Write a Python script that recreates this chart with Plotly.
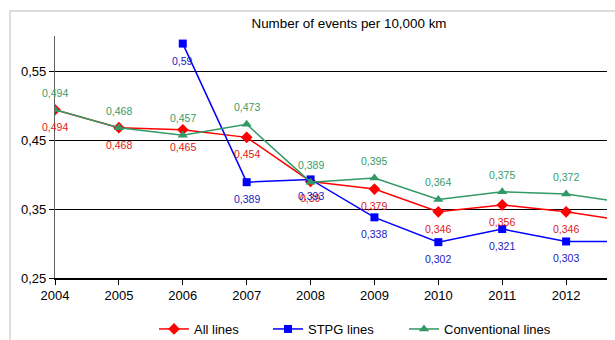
import plotly.graph_objects as go

years = [2004, 2005, 2006, 2007, 2008, 2009, 2010, 2011, 2012, 2013]
all_lines = [0.494, 0.468, 0.465, 0.454, 0.390, 0.379, 0.346, 0.356, 0.346, 0.332]
stpg_lines = [None, None, 0.59, 0.389, 0.393, 0.338, 0.302, 0.321, 0.303, 0.303]
conv_lines = [0.494, 0.468, 0.457, 0.473, 0.389, 0.395, 0.364, 0.375, 0.372, 0.358]
label_years = [2004, 2005, 2006, 2007, 2008, 2009, 2010, 2011, 2012]
y_ticks = [0.25, 0.35, 0.45, 0.55]
y_tick_labels = ["0,25", "0,35", "0,45", "0,55"]
x_ticks = [2004, 2005, 2006, 2007, 2008, 2009, 2010, 2011, 2012]

FONT = "Liberation Sans, Arial, sans-serif"
RED = "#ff0000"
BLUE = "#0000ff"
GREEN = "#339966"

W, H = 615, 340
# plot-area edges in window pixels
PL, PR, PT, PB = 55, 607, 36, 278
L, R, T, B = PL, W - PR, PT, H - PB
PW, PH = PR - PL, PB - PT

def px_x(p):
    return (p - PL) / PW

def px_y(p):
    return (PB - p) / PH

series = [
    ("All lines", all_lines, RED, "#e02020", "diamond", 9, -17, "legend", 154),
    ("STPG lines", stpg_lines, BLUE, "#2020c0", "square", 8, -17, "legend2", 268),
    ("Conventional lines", conv_lines, GREEN, "#3a9a6a", "triangle-up", 9, 17, "legend3", 404),
]

fig = go.Figure()
annotations = []
legends = {}
for name, vals, col, tcol, sym, msize, shift, leg, lx in series:
    fig.add_trace(go.Scatter(
        x=years, y=vals, name=name, mode="lines+markers",
        line=dict(color=col, width=1.5),
        marker=dict(symbol=sym, size=msize, color=col),
        connectgaps=False, legend=leg,
    ))
    legends[leg] = dict(orientation="h", x=px_x(lx), xanchor="left", xref="paper",
                        y=px_y(329), yref="paper", yanchor="middle",
                        font=dict(family=FONT, size=13, color="black"),
                        bgcolor="rgba(0,0,0,0)", borderwidth=0)
    for x, v in zip(years, vals):
        if v is None or x not in label_years:
            continue
        annotations.append(dict(
            x=x, y=v, xref="x", yref="y", showarrow=False,
            text=f"{v:g}".replace(".", ","),
            font=dict(family=FONT, size=10.5, color=tcol),
            yshift=shift,
        ))

fig.update_layout(
    width=W, height=H,
    margin=dict(l=L, r=R, t=T, b=B, autoexpand=False),
    paper_bgcolor="white", plot_bgcolor="white",
    font=dict(family=FONT, size=13, color="black"),
    title=dict(text="Number of events per 10,000 km", x=px_x(349), xref="paper",
               xanchor="center", y=1 - 23 / H, yref="container", yanchor="middle",
               font=dict(family=FONT, size=13.4, color="black")),
    showlegend=True,
    annotations=annotations,
    shapes=[dict(type="rect", xref="paper", yref="paper",
                 x0=px_x(10), x1=1.2, y0=-0.5, y1=px_y(11),
                 line=dict(color="#d4d4d4", width=1.5), layer="below")],
    **legends,
)

fig.update_xaxes(
    range=[2004, 2012.64], tickvals=x_ticks, ticktext=[str(t) for t in x_ticks],
    showgrid=False, zeroline=False, showline=True, linecolor="black", linewidth=1.5,
    ticks="outside", ticklen=5, tickcolor="black", tickwidth=1,
    tickfont=dict(family=FONT, size=13, color="black"), automargin=False,
)
fig.update_yaxes(
    range=[0.25, 0.601], tickvals=y_ticks, ticktext=y_tick_labels,
    showgrid=True, gridcolor="black", gridwidth=1.2, zeroline=False,
    showline=True, linecolor="#606060", linewidth=1.2,
    ticks="outside", ticklen=5, tickcolor="black", tickwidth=1,
    tickfont=dict(family=FONT, size=13, color="black"), automargin=False,
)

fig.write_html(
    "out.html",
    config={"displayModeBar": False},
    post_script="document.body.style.margin='0';document.body.style.overflow='hidden';",
)
